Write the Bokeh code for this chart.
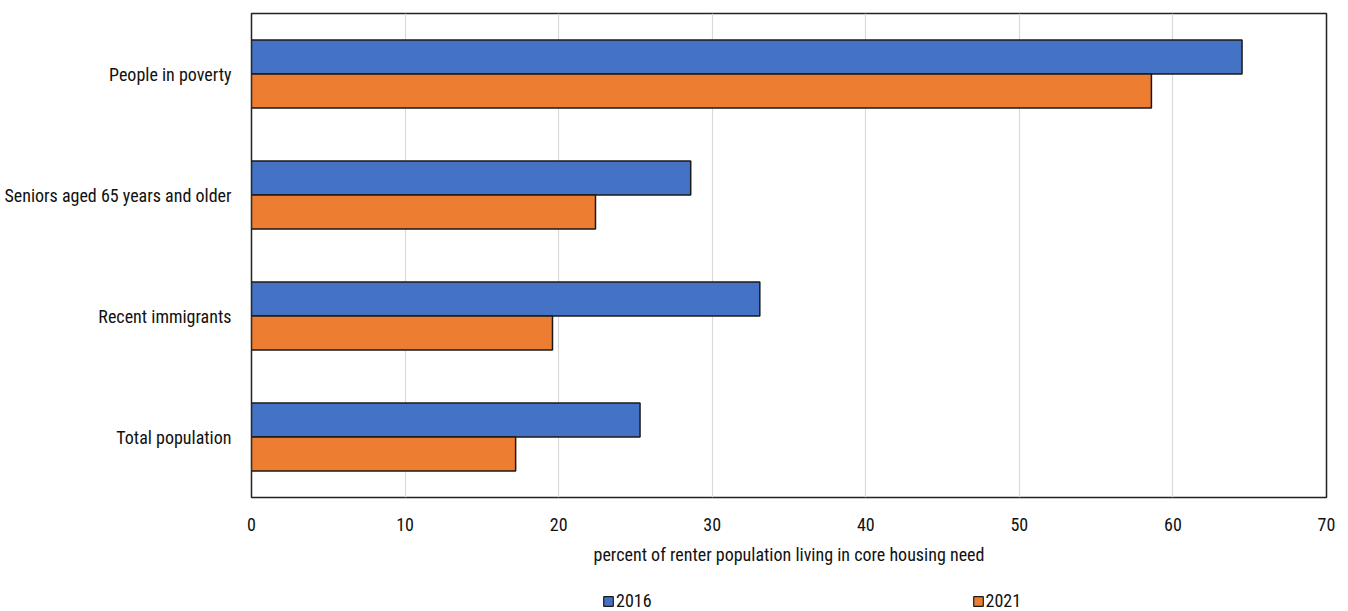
from bokeh.plotting import figure
from bokeh.models import ColumnDataSource, Legend, LegendItem, FactorRange, Range1d
from bokeh.layouts import column
from bokeh.transform import dodge
from bokeh.embed import file_html
from bokeh.resources import INLINE

categories = ["Total population", "Recent immigrants", "Seniors aged 65 years and older", "People in poverty"]
values_2016 = [25.3, 33.1, 28.6, 64.5]
values_2021 = [17.2, 19.6, 22.4, 58.6]
series_names = ["2016", "2021"]
x_ticks = [0, 10, 20, 30, 40, 50, 60, 70]
x_label = "percent of renter population living in core housing need"

FONT = "'Liberation Sans Narrow', 'Arial Narrow', 'Roboto Condensed', sans-serif"
BLUE = "#4472C4"
ORANGE = "#ED7D31"
EDGE = "#1a1a1a"

src = ColumnDataSource(dict(cat=categories, v2016=values_2016, v2021=values_2021))

p = figure(width=1348, height=588, y_range=FactorRange(*categories), x_range=(0, 70),
           output_backend="svg", toolbar_location=None,
           min_border_left=251, min_border_right=22, min_border_top=13, min_border_bottom=91)

r1 = p.hbar(y=dodge("cat", 0.14, range=p.y_range), right="v2016", left=0, height=0.28, source=src,
            fill_color=BLUE, line_color=EDGE, line_width=1.5)
r2 = p.hbar(y=dodge("cat", -0.14, range=p.y_range), right="v2021", left=0, height=0.28, source=src,
            fill_color=ORANGE, line_color=EDGE, line_width=1.5)

p.outline_line_color = "#222222"
p.outline_line_width = 1.5
p.ygrid.grid_line_color = None
p.xgrid.grid_line_color = "#d9d9d9"
p.xgrid.grid_line_width = 1.2
p.xaxis.ticker = x_ticks
p.xaxis.axis_line_color = None
p.yaxis.axis_line_color = None
p.xaxis.major_tick_line_color = None
p.xaxis.minor_tick_line_color = None
p.yaxis.major_tick_line_color = None
p.xaxis.major_label_text_font = FONT
p.yaxis.major_label_text_font = FONT
p.xaxis.major_label_text_font_size = "18px"
p.yaxis.major_label_text_font_size = "18px"
p.xaxis.major_label_text_color = "#111111"
p.yaxis.major_label_text_color = "#111111"
p.xaxis.major_label_standoff = 14
p.yaxis.major_label_standoff = 14
p.xaxis.axis_label = x_label
p.xaxis.axis_label_text_font = FONT
p.xaxis.axis_label_text_font_size = "18px"
p.xaxis.axis_label_text_font_style = "normal"
p.xaxis.axis_label_text_color = "#111111"
p.xaxis.axis_label_standoff = 10

# Legend strip below the chart; its proxy bars lie entirely outside the visible ranges
lf = figure(width=1348, height=23, x_range=Range1d(500, 600), y_range=Range1d(500, 600),
            output_backend="svg", toolbar_location=None, x_axis_location=None, y_axis_location=None,
            min_border=0, min_border_left=0, min_border_right=0, min_border_top=0, min_border_bottom=0)
lf.outline_line_color = None
lf.xgrid.grid_line_color = None
lf.ygrid.grid_line_color = None
l1 = lf.hbar(y="v2016", right="v2016", left=0, height=1, source=src,
             fill_color=BLUE, line_color=EDGE, line_width=1.2)
l2 = lf.hbar(y="v2021", right="v2021", left=0, height=1, source=src,
             fill_color=ORANGE, line_color=EDGE, line_width=1.2)

legend = Legend(items=[LegendItem(label=series_names[0], renderers=[l1]),
                       LegendItem(label=series_names[1], renderers=[l2])],
                orientation="horizontal", location=(351, 0),
                glyph_width=12, glyph_height=12, spacing=320, padding=0, margin=0,
                label_standoff=2, label_text_font=FONT, label_text_font_size="18px",
                label_text_color="#111111", border_line_color=None, background_fill_alpha=0)
lf.add_layout(legend, "center")

layout = column(p, lf, spacing=0)
open("out.html", "w").write(file_html(layout, INLINE))
